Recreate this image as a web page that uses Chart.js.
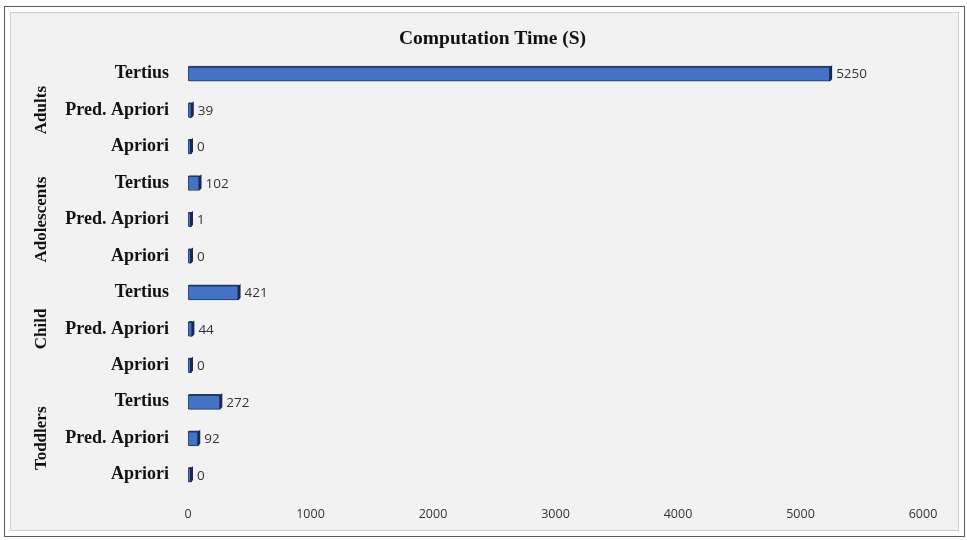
<!DOCTYPE html>
<html>
<head>
<meta charset="utf-8">
<script src="https://cdn.jsdelivr.net/npm/chart.js@4.4.1/dist/chart.umd.min.js"></script>
<style>
  html, body { margin:0; padding:0; background:#fff; }
  #frame { position:absolute; left:4px; top:6px; width:959px; height:529px; border:1px solid #5a5a5a; background:#fff; }
  #inner { position:absolute; left:5px; top:5px; right:5px; bottom:5px; border:1px solid #cfcfcf; background:#f2f2f2; }
  #wrap { position:absolute; left:0; top:0; width:967px; height:540px; }
</style>
</head>
<body>
<div id="frame"><div id="inner"></div></div>
<div id="wrap"><canvas id="chart"></canvas></div>
<script>
// rows from top to bottom, grouped by age band
const methods = ['Tertius','Pred. Apriori','Apriori','Tertius','Pred. Apriori','Apriori','Tertius','Pred. Apriori','Apriori','Tertius','Pred. Apriori','Apriori'];
const groups = ['Adults','Adolescents','Child','Toddlers'];
const times = [5250, 39, 0, 102, 1, 0, 421, 44, 0, 272, 92, 0];
const xTicks = [0, 1000, 2000, 3000, 4000, 5000, 6000];

const serifFamily = '"Liberation Serif", "DejaVu Serif", serif';

// value next to each bar end
const valueLabels = {
  id:'valueLabels',
  afterDatasetsDraw(chart){
    const ctx = chart.ctx;
    const meta = chart.getDatasetMeta(0);
    ctx.save();
    ctx.font = '13.5px "Open Sans", sans-serif';
    ctx.fillStyle = '#333';
    ctx.textAlign = 'left';
    ctx.textBaseline = 'middle';
    meta.data.forEach((bar, i) => {
      ctx.fillText(String(times[i]), bar.x + 5, bar.y + 1);
    });
    ctx.restore();
  }
};

// darker right face to give the bars a bit of depth
const barDepth = {
  id:'barDepth',
  afterDatasetsDraw(chart){
    const ctx = chart.ctx;
    const meta = chart.getDatasetMeta(0);
    ctx.save();
    ctx.fillStyle = '#17294f';
    meta.data.forEach(bar => {
      const h = bar.height, top = bar.y - h/2;
      ctx.beginPath();
      ctx.moveTo(bar.x - 2, top + 1);
      ctx.lineTo(bar.x + 1, top - 1);
      ctx.lineTo(bar.x + 1, top + h - 2);
      ctx.lineTo(bar.x - 2, top + h);
      ctx.closePath();
      ctx.fill();
    });
    ctx.restore();
  }
};

// rotated group names to the left of the method labels
const groupLabels = {
  id:'groupLabels',
  afterDraw(chart){
    const ctx = chart.ctx;
    const y = chart.scales.y;
    ctx.save();
    ctx.font = `bold 17px ${serifFamily}`;
    ctx.fillStyle = '#111';
    ctx.textAlign = 'center';
    ctx.textBaseline = 'middle';
    groups.forEach((g, i) => {
      const mid = y.getPixelForValue(i * 3 + 1);
      ctx.save();
      ctx.translate(42, mid);
      ctx.rotate(-Math.PI / 2);
      ctx.fillText(g, 0, 0);
      ctx.restore();
    });
    ctx.restore();
  }
};

new Chart(document.getElementById('chart'), {
  type:'bar',
  data:{
    labels: methods,
    datasets:[{
      data: times,
      backgroundColor:'#4472c4',
      borderColor:'#1f3864',
      borderWidth:{top:2, right:1, bottom:1, left:1},
      borderSkipped:false,
      borderRadius:2,
      minBarLength:4,
      barThickness:15
    }]
  },
  options:{
    indexAxis:'y',
    responsive:true,
    maintainAspectRatio:false,
    animation:false,
    layout:{ padding:{left:62, right:44, top:0, bottom:0} },
    plugins:{
      legend:{display:false},
      tooltip:{enabled:false},
      title:{
        display:true,
        text:'Computation Time (S)',
        color:'#111',
        font:{family:serifFamily, size:19.5, weight:'bold'},
        padding:{top:27, bottom:5}
      }
    },
    scales:{
      x:{
        min:0, max:6000,
        afterBuildTicks: s => { s.ticks = xTicks.map(v => ({value:v})); },
        afterFit: s => { s.height = 47; },
        grid:{display:false, drawTicks:false},
        border:{display:false},
        ticks:{ padding:14, color:'#333', font:{family:'"Open Sans", sans-serif', size:12.5}, callback: v => String(v) }
      },
      y:{
        afterFit: s => { s.width = 126; },
        grid:{display:false, drawTicks:false},
        border:{display:false},
        ticks:{ padding:19, color:'#111', font:{family:serifFamily, size:18, weight:'bold'}, autoSkip:false }
      }
    }
  },
  plugins:[valueLabels, barDepth, groupLabels]
});
</script>
</body>
</html>
